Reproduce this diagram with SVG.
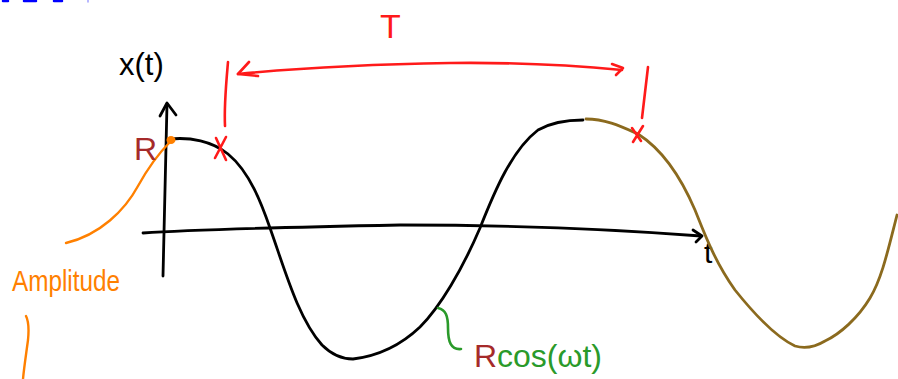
<svg xmlns="http://www.w3.org/2000/svg" width="898" height="379" viewBox="0 0 898 379">
<style>
.s{fill:none;stroke-linecap:round;stroke-linejoin:round}
.blk{stroke:#000;stroke-width:2.8}
.red{stroke:#ff1a1a;stroke-width:2.6}
.org{stroke:#ff8000;stroke-width:2.4}
.grn{stroke:#2a9a2a;stroke-width:2.6}
.brn{stroke:#8b6a1e;stroke-width:2.8}
.hand{font-family:"Liberation Sans","DejaVu Sans",sans-serif}
</style>
<rect width="898" height="379" fill="#fff"/>
<g id="top-marks">
<path class="s" stroke="#0000ff" stroke-width="2.5" d="M3,1 H8 M24,1 H36 M54,1 H62"/>
<path class="s" stroke="#a0a0ff" stroke-width="1.5" d="M88,0 V2"/>
</g>
<g id="axes">
<path class="s blk" d="M167,104 L163,276"/>
<path class="s blk" d="M160,116 L167,103 L176,115"/>
<path class="s blk" d="M143,233 C200,229 300,227 400,225 C500,225 600,228 701,236"/>
<path class="s blk" d="M693,230 L702,236 L696,242"/>
<text class="hand" x="119" y="75" font-size="31" fill="#000">x(t)</text>
<text class="hand" x="704" y="263" font-size="30" fill="#000">t</text>
</g>
<g id="curve">
<path class="s blk" d="M170,139 C190,137 212,141 228,154 C250,172 262,205 270,228 C285,270 298,318 322,345 C332,355 342,359 353,359 C378,356 400,346 420,327 C440,307 462,270 480,228 C495,190 512,150 538,130 C552,122 568,120 583,120"/>
<path class="s brn" d="M586,119 C605,119 620,126 638,134 C660,148 680,175 695,210 C705,235 715,262 735,290 C755,315 778,338 795,346 C805,349 815,347 825,341 C840,334 858,318 870,298 C882,278 888,250 897,215"/>
</g>
<g id="period">
<path class="s red" d="M228,62 C226,85 224,105 225,126"/>
<path class="s red" d="M216,138 L226,160 M226,137 L215,158"/>
<path class="s red" d="M648,67 C646,85 644,100 642,118"/>
<path class="s red" d="M632,128 L641,141 M643,126 L633,142"/>
<path class="s red" d="M238,74 C300,68 380,64 450,63 C530,62 580,66 622,70"/>
<path class="s red" d="M249,62 L238,74 L258,76"/>
<path class="s red" d="M612,64 L623,68 L616,75"/>
<text class="hand" x="380" y="38" font-size="34" fill="#ff1a1a">T</text>
</g>
<g id="amplitude">
<ellipse cx="171" cy="140" rx="4.5" ry="4" fill="#ff8000"/>
<path class="s org" d="M170,142 C160,152 148,168 138,186 C125,210 100,235 66,243"/>
<text class="hand" x="134" y="160" font-size="32" fill="#a52a2a">R</text>
<text class="hand" x="12" y="291" font-size="29" fill="#ff8000" textLength="108" lengthAdjust="spacingAndGlyphs">Amplitude</text>
<path class="s org" d="M26,316 C29,322 29,330 28,340 C26,355 24,368 23,379"/>
</g>
<g id="formula">
<path class="s grn" d="M438,308 C446,310 448,316 448,328 C448,342 451,350 461,349"/>
<text class="hand" x="474" y="367" font-size="31" fill="#a52a2a" textLength="128" lengthAdjust="spacingAndGlyphs">R<tspan fill="#2a9a2a">cos(ωt)</tspan></text>
</g>
</svg>
